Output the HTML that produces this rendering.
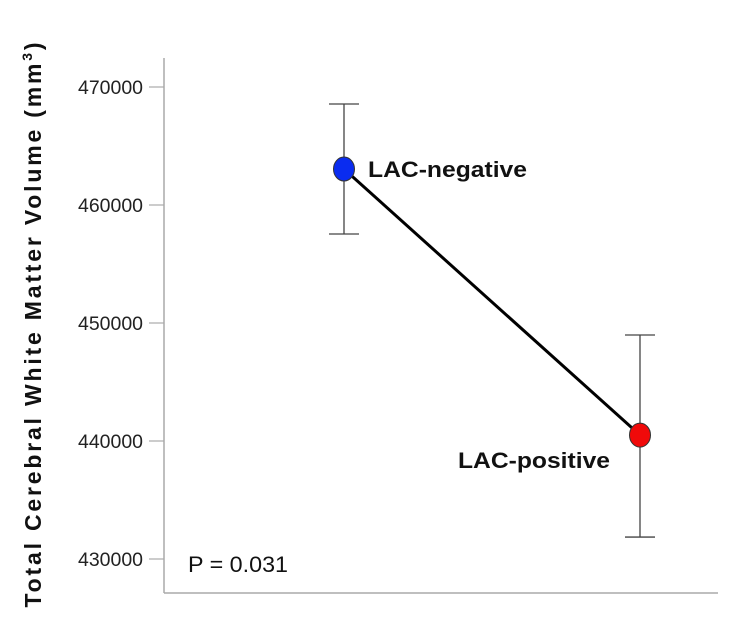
<!DOCTYPE html>
<html><head><meta charset="utf-8"><style>
html,body{margin:0;padding:0;background:#fff;width:736px;height:628px;overflow:hidden}
svg{display:block;font-family:"Liberation Sans",sans-serif}
</style></head><body>
<svg id="chart" width="736" height="628" viewBox="0 0 736 628"></svg>
<script>
const categories=["LAC-negative","LAC-positive"];
const means=[463050,440500];
const upper=[468560,448980];
const lower=[457540,431860];
const yTicks=[430000,440000,450000,460000,470000];
const colors=["#0a2cf0","#f00a0a"];
const NS="http://www.w3.org/2000/svg";
const svg=document.getElementById("chart");
const y=v=>559-(v-430000)/10000*118;
const xPos=[344,640];
const x=i=>xPos[0]+(xPos[1]-xPos[0])*i;
function mk(tag,attrs,parent){const e=document.createElementNS(NS,tag);for(const k in attrs)e.setAttribute(k,attrs[k]);(parent||svg).appendChild(e);return e;}
let e;
e=mk("line",{x1:164,y1:58,x2:164,y2:593,stroke:"#aaa","stroke-width":1.5});


e=mk("line",{x1:164,y1:593,x2:718,y2:593,stroke:"#aaa","stroke-width":1.5});


yTicks.forEach(t=>{
 let l=mk("line",{x1:149,y1:y(t),x2:164,y2:y(t),stroke:"#aaa","stroke-width":1.2});
 
 
 let tx=mk("text",{x:143,y:y(t)+7,"text-anchor":"end","font-size":19,fill:"#222",textLength:65,lengthAdjust:"spacingAndGlyphs"});
 tx.textContent=t;
 
 
});
e=mk("text",{transform:"translate(41,325) rotate(-90)","text-anchor":"middle","font-size":23,"font-weight":"bold",fill:"#111",textLength:565,lengthAdjust:"spacing"});
e.innerHTML='Total Cerebral White Matter Volume (mm<tspan font-size="14" dy="-9">3</tspan><tspan dy="9">)</tspan>';


categories.forEach((c,i)=>{
 const cx=x(i);
 let g=mk("g",{});
 
 
 mk("line",{x1:cx,y1:y(upper[i]),x2:cx,y2:y(lower[i]),stroke:"#444","stroke-width":1.3},g);
 mk("line",{x1:cx-15,y1:y(upper[i]),x2:cx+15,y2:y(upper[i]),stroke:"#444","stroke-width":1.3},g);
 mk("line",{x1:cx-15,y1:y(lower[i]),x2:cx+15,y2:y(lower[i]),stroke:"#444","stroke-width":1.3},g);
});
e=mk("line",{x1:x(0),y1:y(means[0]),x2:x(1),y2:y(means[1]),stroke:"#000","stroke-width":3});


categories.forEach((c,i)=>{
 let p=mk("ellipse",{cx:x(i),cy:y(means[i]),rx:10.5,ry:12,fill:colors[i],stroke:"#333","stroke-width":1});
 
 
});
e=mk("text",{x:x(0)+24,y:y(means[0])+8,"font-size":22,"font-weight":"bold",fill:"#111",textLength:159,lengthAdjust:"spacingAndGlyphs"});
e.textContent=categories[0];


e=mk("text",{x:458,y:y(means[1])+33,"font-size":22,"font-weight":"bold",fill:"#111",textLength:152,lengthAdjust:"spacingAndGlyphs"});
e.textContent=categories[1];


e=mk("text",{x:188,y:572,"font-size":22,fill:"#111",textLength:100,lengthAdjust:"spacingAndGlyphs"});
e.textContent="P = 0.031";


</script>
</body></html>
